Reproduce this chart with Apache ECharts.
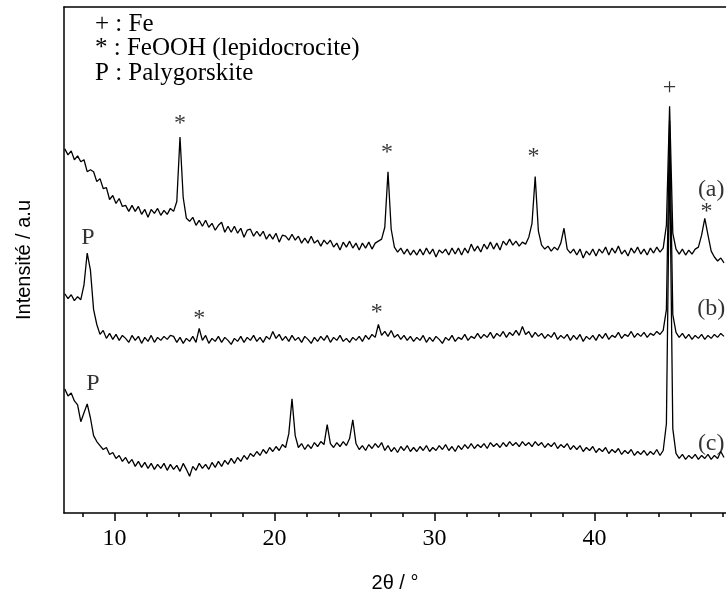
<!DOCTYPE html>
<html><head><meta charset="utf-8">
<script src="https://cdn.jsdelivr.net/npm/echarts@6/dist/echarts.min.js"></script>
<style>html,body{margin:0;padding:0;background:#fff}#chart{width:726px;height:598px}</style>
</head><body><div id="chart"></div>
<script>
// XRD scan: 2θ sampling grid (regular instrument step)
const twoThetaStart = 6.9, twoThetaStep = 0.2;

// Intensities (a.u.), one per 2θ step
const intensityA = [
367,361,365,356,360,354,356,344,346,344,
334,337,327,328,316,320,312,317,309,310,
304,310,304,309,301,306,298,306,302,307,
300,305,301,307,304,314,379,318,297,294,
298,290,295,289,295,288,292,285,290,293,
283,289,283,289,282,287,278,285,286,279,
284,279,284,276,281,276,282,273,280,279,
275,281,275,279,272,277,272,279,272,275,
269,275,271,275,268,272,265,273,268,274,
267,272,265,272,267,273,266,272,274,276,
288,344,286,268,263,267,261,266,260,265,
260,266,260,267,261,266,258,265,262,266,
260,267,261,267,260,267,262,271,264,269,
263,271,266,273,266,272,265,274,270,276,
270,274,269,273,271,278,292,339,284,270,
266,269,264,268,265,272,287,266,262,266,
260,266,257,264,260,266,259,266,262,268,
260,267,262,269,261,265,259,267,262,268,
261,266,260,267,262,268,263,267,290,410,
282,266,261,266,260,265,261,266,268,280,
297,280,264,258,254,257,252];

const intensityB = [
221,216,220,214,218,215,230,262,245,205,
190,180,184,176,181,175,180,174,179,176,
172,179,174,178,171,177,173,179,172,177,
174,178,175,179,178,172,177,171,176,173,
178,172,186,174,179,171,176,173,178,172,
177,174,170,176,173,178,172,177,174,179,
173,177,172,178,175,183,176,180,174,178,
173,179,174,177,172,178,175,171,177,173,
178,174,179,172,177,174,179,173,176,172,
177,174,178,173,179,175,180,177,190,179,
183,178,184,177,180,175,179,174,178,173,
177,174,179,172,177,173,178,175,171,177,
174,179,173,177,175,180,174,178,176,181,
176,180,177,182,176,181,178,183,177,182,
179,184,179,188,180,183,177,182,178,181,
176,180,177,182,175,179,176,180,174,179,
175,180,173,178,175,179,174,180,176,181,
175,179,177,182,176,180,178,183,177,181,
178,182,177,181,179,183,180,184,205,395,
200,182,177,181,176,180,175,179,176,180,
175,179,176,180,177,181,178];

const intensityC = [
125,118,121,113,109,92,101,110,96,78,
72,68,64,66,59,61,55,58,52,56,
50,54,47,52,46,51,45,50,44,49,
45,50,43,49,44,48,42,50,44,37,
47,43,50,45,49,44,51,46,52,47,
53,49,55,50,56,52,58,54,60,57,
62,58,64,60,66,62,67,63,69,66,
80,115,78,66,70,64,69,65,71,67,
72,69,89,70,66,71,67,72,68,75,
94,70,64,68,63,69,65,70,66,71,
63,68,62,66,61,67,63,68,62,66,
62,67,63,68,62,66,63,68,64,69,
63,67,62,68,64,69,65,70,65,69,
66,70,65,71,67,70,66,71,67,72,
68,71,67,72,68,71,67,72,68,71,
66,70,67,71,65,69,66,70,64,68,
64,68,62,66,63,67,61,65,62,66,
60,64,61,65,59,63,60,64,58,62,
59,63,58,62,59,64,58,63,90,360,
85,60,55,59,54,58,55,59,54,58,
55,59,54,58,55,62,56];

// Axis ticks
const majorTicks = [10, 20, 30, 40];
const minorTicks = [8, 12, 14, 16, 18, 22, 24, 26, 28, 32, 34, 36, 38, 42, 44, 46, 48];

// Peak annotations
const annotSeries = ['a', 'a', 'a', 'a', 'a', 'b', 'b', 'b', 'c'];
const annotPeak   = [14.1, 27.1, 36.3, 44.7, 46.9, 8.3, 15.3, 26.5, 8.3];
const annotX      = [14.1, 27.03, 36.2, 44.7, 47.0, 8.35, 15.3, 26.4, 8.65];
const annotText   = ['*', '*', '*', '+', '*', 'P', '*', '*', 'P'];
const annotGap    = [13, 19, 20, 19, 7, 15, 10, 12, 20];

// Pattern labels
const patternNames = ['(a)', '(b)', '(c)'];
const patternLabelX = [47.3, 47.3, 47.3];
const patternLabelV = [326, 206, 70];

// Legend block
const legendLines = ['+ : Fe', '* : FeOOH (lepidocrocite)', 'P : Palygorskite'];

const seriesMap = { a: intensityA, b: intensityB, c: intensityC };
function toPairs(arr) {
  return arr.map((v, i) => [+(twoThetaStart + i * twoThetaStep).toFixed(2), v]);
}
function valueAt(arr, x) {
  const i = Math.round((x - twoThetaStart) / twoThetaStep);
  return arr[Math.max(0, Math.min(arr.length - 1, i))];
}

const serif = 'Liberation Serif';
const sans = 'Liberation Sans';
const XMIN = 6.85, XMAX = 48.225;

const annotData = annotText.map((t, k) => ({
  name: t,
  value: [annotX[k], valueAt(seriesMap[annotSeries[k]], annotPeak[k]) + annotGap[k]]
}));
const patternData = patternNames.map((t, k) => ({ name: t, value: [patternLabelX[k], patternLabelV[k]] }));

const lineStyleCommon = { color: '#000', width: 1.3 };
const chart = echarts.init(document.getElementById('chart'), null, { renderer: 'canvas' });
chart.setOption({
  animation: false,
  backgroundColor: '#fff',
  grid: { left: 64, right: 0, top: 7, bottom: 81, containLabel: false },
  xAxis: [
    {
      type: 'value', min: XMIN, max: XMAX, position: 'bottom',
      axisLine: { show: true, lineStyle: { color: '#000', width: 1.5 } },
      axisTick: { show: true, customValues: majorTicks, length: 8, inside: false, lineStyle: { color: '#000', width: 1.5 } },
      axisLabel: { show: true, customValues: majorTicks, fontFamily: serif, fontSize: 24, color: '#000', margin: 14 },
      splitLine: { show: false },
      name: '2θ / °', nameLocation: 'middle', nameGap: 60,
      nameTextStyle: { fontFamily: sans, fontSize: 20, color: '#000' }
    },
    {
      type: 'value', min: XMIN, max: XMAX, position: 'bottom',
      axisLine: { show: false },
      axisTick: { show: true, customValues: minorTicks, length: 4, inside: false, lineStyle: { color: '#000', width: 1.5 } },
      axisLabel: { show: false },
      splitLine: { show: false }
    },
    {
      type: 'value', min: XMIN, max: XMAX, position: 'top',
      axisLine: { show: true, lineStyle: { color: '#000', width: 1.5 } },
      axisTick: { show: false }, axisLabel: { show: false }, splitLine: { show: false }
    }
  ],
  yAxis: {
    type: 'value', min: 0, max: 510,
    axisLine: { show: true, lineStyle: { color: '#000', width: 1.5 } },
    axisTick: { show: false }, axisLabel: { show: false }, splitLine: { show: false },
    name: 'Intensité / a.u', nameLocation: 'middle', nameGap: 30, nameRotate: 90,
    nameTextStyle: { fontFamily: sans, fontSize: 20, color: '#000' }
  },
  graphic: legendLines.map((t, k) => ({
    type: 'text', x: 95, y: 24 + k * 24.5,
    style: { text: t, fontFamily: serif, fontSize: 25, fill: '#000', verticalAlign: 'middle', align: 'left' }
  })),
  series: [
    { type: 'line', name: 'c', data: toPairs(intensityC), showSymbol: false, symbol: 'none', lineStyle: lineStyleCommon, silent: true },
    { type: 'line', name: 'b', data: toPairs(intensityB), showSymbol: false, symbol: 'none', lineStyle: lineStyleCommon, silent: true },
    { type: 'line', name: 'a', data: toPairs(intensityA), showSymbol: false, symbol: 'none', lineStyle: lineStyleCommon, silent: true },
    {
      type: 'scatter', data: annotData, symbolSize: 1, itemStyle: { color: 'rgba(0,0,0,0)' }, silent: true,
      label: { show: true, position: 'inside', formatter: p => p.name, fontFamily: serif, fontSize: 24, color: '#000' }
    },
    {
      type: 'scatter', data: patternData, symbolSize: 1, itemStyle: { color: 'rgba(0,0,0,0)' }, silent: true,
      label: { show: true, position: 'inside', formatter: p => p.name, fontFamily: serif, fontSize: 24, color: '#000' }
    }
  ]
});
</script>
</body></html>
